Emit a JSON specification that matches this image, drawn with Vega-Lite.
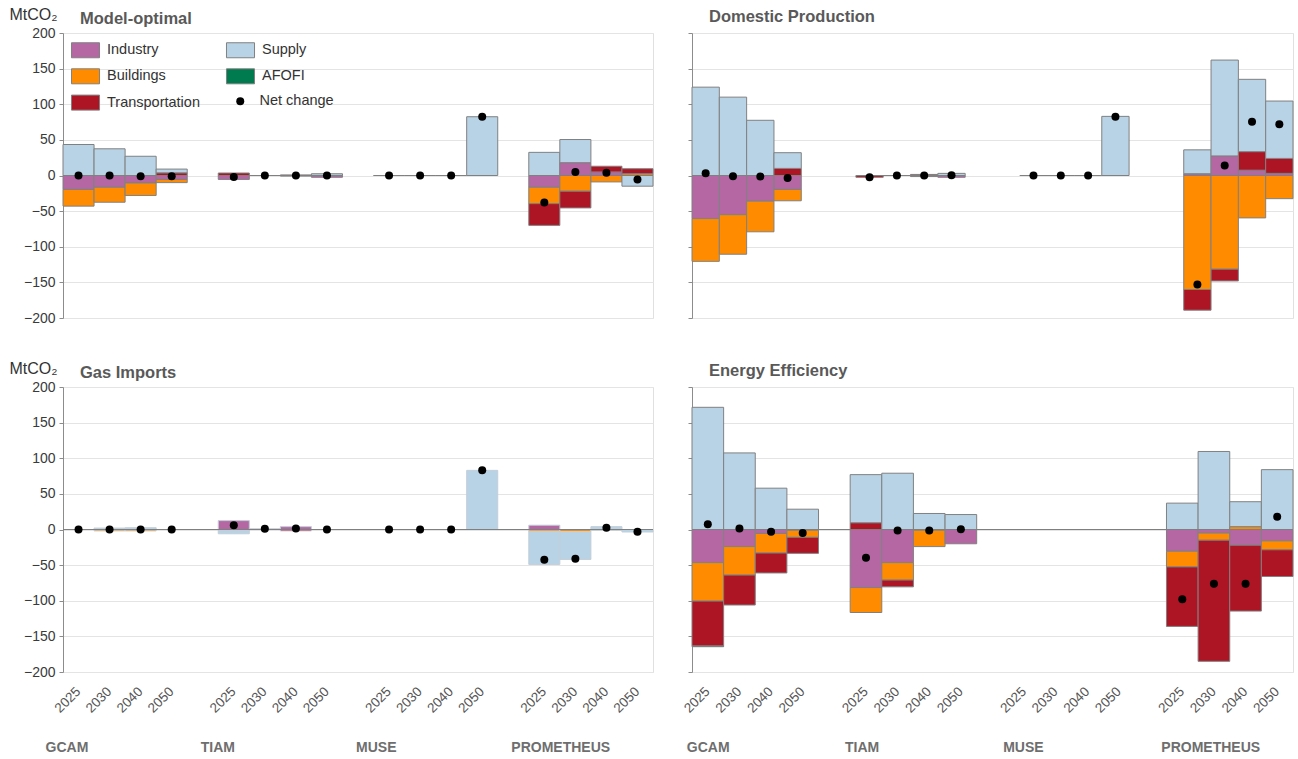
{
  "$schema": "https://vega.github.io/schema/vega-lite/v6.json",
  "background": "white",
  "padding": {"left": 8, "top": 5, "right": 4, "bottom": 4},
  "config": {
    "font": "Liberation Sans",
    "view": {"stroke": "#e0e0e0", "strokeWidth": 1},
    "axis": {"domainColor": "#8c8c8c", "tickColor": "#8c8c8c", "gridColor": "#e4e4e4", "gridWidth": 1},
    "title": {"anchor": "start", "frame": "group", "dx": 17, "fontSize": 16.5, "fontWeight": "bold", "color": "#595959", "baseline": "alphabetic"}
  },
  "datasets": {
    "bars": [
      {"panel": "Model-optimal", "model": "GCAM", "year": "2025", "sector": "Supply", "value": 43.5},
      {"panel": "Model-optimal", "model": "GCAM", "year": "2025", "sector": "Industry", "value": -19.5},
      {"panel": "Model-optimal", "model": "GCAM", "year": "2025", "sector": "Buildings", "value": -23.5},
      {"panel": "Model-optimal", "model": "GCAM", "year": "2030", "sector": "Supply", "value": 37.5},
      {"panel": "Model-optimal", "model": "GCAM", "year": "2030", "sector": "Industry", "value": -16.5},
      {"panel": "Model-optimal", "model": "GCAM", "year": "2030", "sector": "Buildings", "value": -21},
      {"panel": "Model-optimal", "model": "GCAM", "year": "2040", "sector": "Supply", "value": 27},
      {"panel": "Model-optimal", "model": "GCAM", "year": "2040", "sector": "Industry", "value": -10.5},
      {"panel": "Model-optimal", "model": "GCAM", "year": "2040", "sector": "Buildings", "value": -17.5},
      {"panel": "Model-optimal", "model": "GCAM", "year": "2050", "sector": "Supply", "value": 5.5},
      {"panel": "Model-optimal", "model": "GCAM", "year": "2050", "sector": "Transportation", "value": 3.5},
      {"panel": "Model-optimal", "model": "GCAM", "year": "2050", "sector": "Industry", "value": -5.5},
      {"panel": "Model-optimal", "model": "GCAM", "year": "2050", "sector": "Buildings", "value": -4.5},
      {"panel": "Model-optimal", "model": "TIAM", "year": "2025", "sector": "Transportation", "value": 3.5},
      {"panel": "Model-optimal", "model": "TIAM", "year": "2025", "sector": "Industry", "value": -5.5},
      {"panel": "Model-optimal", "model": "TIAM", "year": "2030", "sector": "Supply", "value": 0},
      {"panel": "Model-optimal", "model": "TIAM", "year": "2040", "sector": "Transportation", "value": 0.8},
      {"panel": "Model-optimal", "model": "TIAM", "year": "2040", "sector": "Industry", "value": -0.8},
      {"panel": "Model-optimal", "model": "TIAM", "year": "2050", "sector": "Supply", "value": 2.5},
      {"panel": "Model-optimal", "model": "TIAM", "year": "2050", "sector": "Industry", "value": -2.5},
      {"panel": "Model-optimal", "model": "MUSE", "year": "2025", "sector": "Supply", "value": 0},
      {"panel": "Model-optimal", "model": "MUSE", "year": "2030", "sector": "Supply", "value": 0},
      {"panel": "Model-optimal", "model": "MUSE", "year": "2040", "sector": "Supply", "value": 0},
      {"panel": "Model-optimal", "model": "MUSE", "year": "2050", "sector": "Supply", "value": 82.5},
      {"panel": "Model-optimal", "model": "PROMETHEUS", "year": "2025", "sector": "Supply", "value": 32.5},
      {"panel": "Model-optimal", "model": "PROMETHEUS", "year": "2025", "sector": "Industry", "value": -16.5},
      {"panel": "Model-optimal", "model": "PROMETHEUS", "year": "2025", "sector": "Buildings", "value": -23},
      {"panel": "Model-optimal", "model": "PROMETHEUS", "year": "2025", "sector": "Transportation", "value": -30.5},
      {"panel": "Model-optimal", "model": "PROMETHEUS", "year": "2030", "sector": "Industry", "value": 18},
      {"panel": "Model-optimal", "model": "PROMETHEUS", "year": "2030", "sector": "Supply", "value": 32.5},
      {"panel": "Model-optimal", "model": "PROMETHEUS", "year": "2030", "sector": "Buildings", "value": -22},
      {"panel": "Model-optimal", "model": "PROMETHEUS", "year": "2030", "sector": "Transportation", "value": -23.5},
      {"panel": "Model-optimal", "model": "PROMETHEUS", "year": "2040", "sector": "Industry", "value": 5},
      {"panel": "Model-optimal", "model": "PROMETHEUS", "year": "2040", "sector": "Transportation", "value": 8},
      {"panel": "Model-optimal", "model": "PROMETHEUS", "year": "2040", "sector": "Buildings", "value": -9},
      {"panel": "Model-optimal", "model": "PROMETHEUS", "year": "2050", "sector": "Buildings", "value": 2.5},
      {"panel": "Model-optimal", "model": "PROMETHEUS", "year": "2050", "sector": "Transportation", "value": 7},
      {"panel": "Model-optimal", "model": "PROMETHEUS", "year": "2050", "sector": "Supply", "value": -15},

      {"panel": "Domestic Production", "model": "GCAM", "year": "2025", "sector": "Supply", "value": 124},
      {"panel": "Domestic Production", "model": "GCAM", "year": "2025", "sector": "Industry", "value": -60.5},
      {"panel": "Domestic Production", "model": "GCAM", "year": "2025", "sector": "Buildings", "value": -60},
      {"panel": "Domestic Production", "model": "GCAM", "year": "2030", "sector": "Supply", "value": 110},
      {"panel": "Domestic Production", "model": "GCAM", "year": "2030", "sector": "Industry", "value": -55},
      {"panel": "Domestic Production", "model": "GCAM", "year": "2030", "sector": "Buildings", "value": -55.5},
      {"panel": "Domestic Production", "model": "GCAM", "year": "2040", "sector": "Supply", "value": 77.5},
      {"panel": "Domestic Production", "model": "GCAM", "year": "2040", "sector": "Industry", "value": -36},
      {"panel": "Domestic Production", "model": "GCAM", "year": "2040", "sector": "Buildings", "value": -43},
      {"panel": "Domestic Production", "model": "GCAM", "year": "2050", "sector": "Transportation", "value": 10},
      {"panel": "Domestic Production", "model": "GCAM", "year": "2050", "sector": "Supply", "value": 22},
      {"panel": "Domestic Production", "model": "GCAM", "year": "2050", "sector": "Industry", "value": -19.5},
      {"panel": "Domestic Production", "model": "GCAM", "year": "2050", "sector": "Buildings", "value": -16},
      {"panel": "Domestic Production", "model": "TIAM", "year": "2025", "sector": "Transportation", "value": -2.5},
      {"panel": "Domestic Production", "model": "TIAM", "year": "2030", "sector": "Supply", "value": 0},
      {"panel": "Domestic Production", "model": "TIAM", "year": "2040", "sector": "Transportation", "value": 1.5},
      {"panel": "Domestic Production", "model": "TIAM", "year": "2040", "sector": "Industry", "value": -1.5},
      {"panel": "Domestic Production", "model": "TIAM", "year": "2050", "sector": "Supply", "value": 3},
      {"panel": "Domestic Production", "model": "TIAM", "year": "2050", "sector": "Industry", "value": -2.5},
      {"panel": "Domestic Production", "model": "MUSE", "year": "2025", "sector": "Supply", "value": 0},
      {"panel": "Domestic Production", "model": "MUSE", "year": "2030", "sector": "Supply", "value": 0},
      {"panel": "Domestic Production", "model": "MUSE", "year": "2040", "sector": "Supply", "value": 0},
      {"panel": "Domestic Production", "model": "MUSE", "year": "2050", "sector": "Supply", "value": 83},
      {"panel": "Domestic Production", "model": "PROMETHEUS", "year": "2025", "sector": "Industry", "value": 2.5},
      {"panel": "Domestic Production", "model": "PROMETHEUS", "year": "2025", "sector": "Supply", "value": 33.5},
      {"panel": "Domestic Production", "model": "PROMETHEUS", "year": "2025", "sector": "Buildings", "value": -160},
      {"panel": "Domestic Production", "model": "PROMETHEUS", "year": "2025", "sector": "Transportation", "value": -29},
      {"panel": "Domestic Production", "model": "PROMETHEUS", "year": "2030", "sector": "Industry", "value": 27.5},
      {"panel": "Domestic Production", "model": "PROMETHEUS", "year": "2030", "sector": "Supply", "value": 134.5},
      {"panel": "Domestic Production", "model": "PROMETHEUS", "year": "2030", "sector": "Buildings", "value": -131.5},
      {"panel": "Domestic Production", "model": "PROMETHEUS", "year": "2030", "sector": "Transportation", "value": -16.5},
      {"panel": "Domestic Production", "model": "PROMETHEUS", "year": "2040", "sector": "Industry", "value": 7.5},
      {"panel": "Domestic Production", "model": "PROMETHEUS", "year": "2040", "sector": "Transportation", "value": 26},
      {"panel": "Domestic Production", "model": "PROMETHEUS", "year": "2040", "sector": "Supply", "value": 101.5},
      {"panel": "Domestic Production", "model": "PROMETHEUS", "year": "2040", "sector": "Buildings", "value": -59.5},
      {"panel": "Domestic Production", "model": "PROMETHEUS", "year": "2050", "sector": "Industry", "value": 3},
      {"panel": "Domestic Production", "model": "PROMETHEUS", "year": "2050", "sector": "Transportation", "value": 21},
      {"panel": "Domestic Production", "model": "PROMETHEUS", "year": "2050", "sector": "Supply", "value": 80.5},
      {"panel": "Domestic Production", "model": "PROMETHEUS", "year": "2050", "sector": "Buildings", "value": -32.5},

      {"panel": "Gas Imports", "model": "GCAM", "year": "2025", "sector": "Supply", "value": 0},
      {"panel": "Gas Imports", "model": "GCAM", "year": "2030", "sector": "Supply", "value": 2},
      {"panel": "Gas Imports", "model": "GCAM", "year": "2030", "sector": "Buildings", "value": -2},
      {"panel": "Gas Imports", "model": "GCAM", "year": "2040", "sector": "Supply", "value": 2.5},
      {"panel": "Gas Imports", "model": "GCAM", "year": "2040", "sector": "Buildings", "value": -2},
      {"panel": "Gas Imports", "model": "GCAM", "year": "2050", "sector": "Supply", "value": 0},
      {"panel": "Gas Imports", "model": "TIAM", "year": "2025", "sector": "Industry", "value": 12.5},
      {"panel": "Gas Imports", "model": "TIAM", "year": "2025", "sector": "Transportation", "value": -1.5},
      {"panel": "Gas Imports", "model": "TIAM", "year": "2025", "sector": "Supply", "value": -4.5},
      {"panel": "Gas Imports", "model": "TIAM", "year": "2030", "sector": "Industry", "value": 1},
      {"panel": "Gas Imports", "model": "TIAM", "year": "2040", "sector": "Industry", "value": 4},
      {"panel": "Gas Imports", "model": "TIAM", "year": "2040", "sector": "Transportation", "value": -2},
      {"panel": "Gas Imports", "model": "TIAM", "year": "2050", "sector": "Supply", "value": 0},
      {"panel": "Gas Imports", "model": "MUSE", "year": "2025", "sector": "Supply", "value": 0},
      {"panel": "Gas Imports", "model": "MUSE", "year": "2030", "sector": "Supply", "value": 0},
      {"panel": "Gas Imports", "model": "MUSE", "year": "2040", "sector": "Supply", "value": 0},
      {"panel": "Gas Imports", "model": "MUSE", "year": "2050", "sector": "Supply", "value": 83},
      {"panel": "Gas Imports", "model": "PROMETHEUS", "year": "2025", "sector": "Industry", "value": 6},
      {"panel": "Gas Imports", "model": "PROMETHEUS", "year": "2025", "sector": "Buildings", "value": -2.5},
      {"panel": "Gas Imports", "model": "PROMETHEUS", "year": "2025", "sector": "Supply", "value": -46.5},
      {"panel": "Gas Imports", "model": "PROMETHEUS", "year": "2030", "sector": "Buildings", "value": -3},
      {"panel": "Gas Imports", "model": "PROMETHEUS", "year": "2030", "sector": "Supply", "value": -39},
      {"panel": "Gas Imports", "model": "PROMETHEUS", "year": "2040", "sector": "Supply", "value": 4},
      {"panel": "Gas Imports", "model": "PROMETHEUS", "year": "2040", "sector": "Buildings", "value": -1},
      {"panel": "Gas Imports", "model": "PROMETHEUS", "year": "2050", "sector": "Supply", "value": -3.5},

      {"panel": "Energy Efficiency", "model": "GCAM", "year": "2025", "sector": "Supply", "value": 171.5},
      {"panel": "Energy Efficiency", "model": "GCAM", "year": "2025", "sector": "Industry", "value": -46.5},
      {"panel": "Energy Efficiency", "model": "GCAM", "year": "2025", "sector": "Buildings", "value": -54},
      {"panel": "Energy Efficiency", "model": "GCAM", "year": "2025", "sector": "Transportation", "value": -63},
      {"panel": "Energy Efficiency", "model": "GCAM", "year": "2025", "sector": "AFOFI", "value": -1},
      {"panel": "Energy Efficiency", "model": "GCAM", "year": "2030", "sector": "Supply", "value": 107.5},
      {"panel": "Energy Efficiency", "model": "GCAM", "year": "2030", "sector": "Industry", "value": -24},
      {"panel": "Energy Efficiency", "model": "GCAM", "year": "2030", "sector": "Buildings", "value": -40},
      {"panel": "Energy Efficiency", "model": "GCAM", "year": "2030", "sector": "Transportation", "value": -42},
      {"panel": "Energy Efficiency", "model": "GCAM", "year": "2040", "sector": "Supply", "value": 58},
      {"panel": "Energy Efficiency", "model": "GCAM", "year": "2040", "sector": "Industry", "value": -5.5},
      {"panel": "Energy Efficiency", "model": "GCAM", "year": "2040", "sector": "Buildings", "value": -27.5},
      {"panel": "Energy Efficiency", "model": "GCAM", "year": "2040", "sector": "Transportation", "value": -28},
      {"panel": "Energy Efficiency", "model": "GCAM", "year": "2050", "sector": "Supply", "value": 28.5},
      {"panel": "Energy Efficiency", "model": "GCAM", "year": "2050", "sector": "Industry", "value": -1},
      {"panel": "Energy Efficiency", "model": "GCAM", "year": "2050", "sector": "Buildings", "value": -10},
      {"panel": "Energy Efficiency", "model": "GCAM", "year": "2050", "sector": "Transportation", "value": -22.5},
      {"panel": "Energy Efficiency", "model": "TIAM", "year": "2025", "sector": "Transportation", "value": 9.5},
      {"panel": "Energy Efficiency", "model": "TIAM", "year": "2025", "sector": "Supply", "value": 67.5},
      {"panel": "Energy Efficiency", "model": "TIAM", "year": "2025", "sector": "Industry", "value": -81.5},
      {"panel": "Energy Efficiency", "model": "TIAM", "year": "2025", "sector": "Buildings", "value": -35},
      {"panel": "Energy Efficiency", "model": "TIAM", "year": "2030", "sector": "Supply", "value": 79},
      {"panel": "Energy Efficiency", "model": "TIAM", "year": "2030", "sector": "Industry", "value": -46.5},
      {"panel": "Energy Efficiency", "model": "TIAM", "year": "2030", "sector": "Buildings", "value": -24.5},
      {"panel": "Energy Efficiency", "model": "TIAM", "year": "2030", "sector": "Transportation", "value": -9.5},
      {"panel": "Energy Efficiency", "model": "TIAM", "year": "2040", "sector": "Supply", "value": 22.5},
      {"panel": "Energy Efficiency", "model": "TIAM", "year": "2040", "sector": "Industry", "value": -1},
      {"panel": "Energy Efficiency", "model": "TIAM", "year": "2040", "sector": "Buildings", "value": -23},
      {"panel": "Energy Efficiency", "model": "TIAM", "year": "2050", "sector": "Supply", "value": 21},
      {"panel": "Energy Efficiency", "model": "TIAM", "year": "2050", "sector": "Industry", "value": -20},
      {"panel": "Energy Efficiency", "model": "PROMETHEUS", "year": "2025", "sector": "Supply", "value": 37},
      {"panel": "Energy Efficiency", "model": "PROMETHEUS", "year": "2025", "sector": "Industry", "value": -30.5},
      {"panel": "Energy Efficiency", "model": "PROMETHEUS", "year": "2025", "sector": "Buildings", "value": -22},
      {"panel": "Energy Efficiency", "model": "PROMETHEUS", "year": "2025", "sector": "Transportation", "value": -83.5},
      {"panel": "Energy Efficiency", "model": "PROMETHEUS", "year": "2030", "sector": "Supply", "value": 109.5},
      {"panel": "Energy Efficiency", "model": "PROMETHEUS", "year": "2030", "sector": "Industry", "value": -5},
      {"panel": "Energy Efficiency", "model": "PROMETHEUS", "year": "2030", "sector": "Buildings", "value": -10},
      {"panel": "Energy Efficiency", "model": "PROMETHEUS", "year": "2030", "sector": "Transportation", "value": -170},
      {"panel": "Energy Efficiency", "model": "PROMETHEUS", "year": "2040", "sector": "Buildings", "value": 4},
      {"panel": "Energy Efficiency", "model": "PROMETHEUS", "year": "2040", "sector": "Supply", "value": 35},
      {"panel": "Energy Efficiency", "model": "PROMETHEUS", "year": "2040", "sector": "Industry", "value": -22},
      {"panel": "Energy Efficiency", "model": "PROMETHEUS", "year": "2040", "sector": "Transportation", "value": -92.5},
      {"panel": "Energy Efficiency", "model": "PROMETHEUS", "year": "2050", "sector": "Supply", "value": 84},
      {"panel": "Energy Efficiency", "model": "PROMETHEUS", "year": "2050", "sector": "Industry", "value": -16},
      {"panel": "Energy Efficiency", "model": "PROMETHEUS", "year": "2050", "sector": "Buildings", "value": -12.5},
      {"panel": "Energy Efficiency", "model": "PROMETHEUS", "year": "2050", "sector": "Transportation", "value": -37.5}
    ],
    "net": [
      {"panel": "Model-optimal", "model": "GCAM", "year": "2025", "net": 0},
      {"panel": "Model-optimal", "model": "GCAM", "year": "2030", "net": 0},
      {"panel": "Model-optimal", "model": "GCAM", "year": "2040", "net": -1},
      {"panel": "Model-optimal", "model": "GCAM", "year": "2050", "net": -1},
      {"panel": "Model-optimal", "model": "TIAM", "year": "2025", "net": -2},
      {"panel": "Model-optimal", "model": "TIAM", "year": "2030", "net": 0},
      {"panel": "Model-optimal", "model": "TIAM", "year": "2040", "net": 0},
      {"panel": "Model-optimal", "model": "TIAM", "year": "2050", "net": 0},
      {"panel": "Model-optimal", "model": "MUSE", "year": "2025", "net": 0},
      {"panel": "Model-optimal", "model": "MUSE", "year": "2030", "net": 0},
      {"panel": "Model-optimal", "model": "MUSE", "year": "2040", "net": 0},
      {"panel": "Model-optimal", "model": "MUSE", "year": "2050", "net": 82.5},
      {"panel": "Model-optimal", "model": "PROMETHEUS", "year": "2025", "net": -38},
      {"panel": "Model-optimal", "model": "PROMETHEUS", "year": "2030", "net": 5},
      {"panel": "Model-optimal", "model": "PROMETHEUS", "year": "2040", "net": 4},
      {"panel": "Model-optimal", "model": "PROMETHEUS", "year": "2050", "net": -5.5},
      {"panel": "Domestic Production", "model": "GCAM", "year": "2025", "net": 3},
      {"panel": "Domestic Production", "model": "GCAM", "year": "2030", "net": -1},
      {"panel": "Domestic Production", "model": "GCAM", "year": "2040", "net": -1.5},
      {"panel": "Domestic Production", "model": "GCAM", "year": "2050", "net": -3.5},
      {"panel": "Domestic Production", "model": "TIAM", "year": "2025", "net": -2.5},
      {"panel": "Domestic Production", "model": "TIAM", "year": "2030", "net": 0},
      {"panel": "Domestic Production", "model": "TIAM", "year": "2040", "net": 0},
      {"panel": "Domestic Production", "model": "TIAM", "year": "2050", "net": 0.5},
      {"panel": "Domestic Production", "model": "MUSE", "year": "2025", "net": 0},
      {"panel": "Domestic Production", "model": "MUSE", "year": "2030", "net": 0},
      {"panel": "Domestic Production", "model": "MUSE", "year": "2040", "net": 0},
      {"panel": "Domestic Production", "model": "MUSE", "year": "2050", "net": 82.5},
      {"panel": "Domestic Production", "model": "PROMETHEUS", "year": "2025", "net": -153},
      {"panel": "Domestic Production", "model": "PROMETHEUS", "year": "2030", "net": 14},
      {"panel": "Domestic Production", "model": "PROMETHEUS", "year": "2040", "net": 75.5},
      {"panel": "Domestic Production", "model": "PROMETHEUS", "year": "2050", "net": 72},
      {"panel": "Gas Imports", "model": "GCAM", "year": "2025", "net": 0},
      {"panel": "Gas Imports", "model": "GCAM", "year": "2030", "net": 0},
      {"panel": "Gas Imports", "model": "GCAM", "year": "2040", "net": 0},
      {"panel": "Gas Imports", "model": "GCAM", "year": "2050", "net": 0},
      {"panel": "Gas Imports", "model": "TIAM", "year": "2025", "net": 6},
      {"panel": "Gas Imports", "model": "TIAM", "year": "2030", "net": 1},
      {"panel": "Gas Imports", "model": "TIAM", "year": "2040", "net": 1.5},
      {"panel": "Gas Imports", "model": "TIAM", "year": "2050", "net": 0},
      {"panel": "Gas Imports", "model": "MUSE", "year": "2025", "net": 0},
      {"panel": "Gas Imports", "model": "MUSE", "year": "2030", "net": 0},
      {"panel": "Gas Imports", "model": "MUSE", "year": "2040", "net": 0},
      {"panel": "Gas Imports", "model": "MUSE", "year": "2050", "net": 83},
      {"panel": "Gas Imports", "model": "PROMETHEUS", "year": "2025", "net": -42.5},
      {"panel": "Gas Imports", "model": "PROMETHEUS", "year": "2030", "net": -41},
      {"panel": "Gas Imports", "model": "PROMETHEUS", "year": "2040", "net": 2.5},
      {"panel": "Gas Imports", "model": "PROMETHEUS", "year": "2050", "net": -3},
      {"panel": "Energy Efficiency", "model": "GCAM", "year": "2025", "net": 7.5},
      {"panel": "Energy Efficiency", "model": "GCAM", "year": "2030", "net": 1.5},
      {"panel": "Energy Efficiency", "model": "GCAM", "year": "2040", "net": -3},
      {"panel": "Energy Efficiency", "model": "GCAM", "year": "2050", "net": -5},
      {"panel": "Energy Efficiency", "model": "TIAM", "year": "2025", "net": -39.5},
      {"panel": "Energy Efficiency", "model": "TIAM", "year": "2030", "net": -1.5},
      {"panel": "Energy Efficiency", "model": "TIAM", "year": "2040", "net": -1.5},
      {"panel": "Energy Efficiency", "model": "TIAM", "year": "2050", "net": 0.5},
      {"panel": "Energy Efficiency", "model": "PROMETHEUS", "year": "2025", "net": -98},
      {"panel": "Energy Efficiency", "model": "PROMETHEUS", "year": "2030", "net": -76},
      {"panel": "Energy Efficiency", "model": "PROMETHEUS", "year": "2040", "net": -76},
      {"panel": "Energy Efficiency", "model": "PROMETHEUS", "year": "2050", "net": 18}
    ]
  },
  "columns": 2,
  "bounds": "flush",
  "spacing": {"row": 69, "column": 39},
  "resolve": {"legend": {"color": "independent", "shape": "independent"}},
  "concat": [
    {
      "width": 590, "height": 285,
      "title": {"text": "Model-optimal", "offset": -21.5},
      "layer": [
        {
          "data": {"name": "bars"},
          "transform": [
            {"filter": "datum.panel == 'Model-optimal'"},
            {"calculate": "datum.model + '|' + datum.year", "as": "key"},
            {"calculate": "indexof(['Industry','Buildings','Transportation','AFOFI','Supply'], datum.sector)", "as": "so"}
          ],
          "mark": {"type": "bar", "stroke": "#808080", "strokeWidth": 1},
          "encoding": {
            "x": {"field": "key", "type": "nominal", "scale": {"domain": ["GCAM|2025","GCAM|2030","GCAM|2040","GCAM|2050","gap1","TIAM|2025","TIAM|2030","TIAM|2040","TIAM|2050","gap2","MUSE|2025","MUSE|2030","MUSE|2040","MUSE|2050","gap3","PROMETHEUS|2025","PROMETHEUS|2030","PROMETHEUS|2040","PROMETHEUS|2050"], "paddingInner": 0, "paddingOuter": 0}, "axis": null},
            "y": {"field": "value", "type": "quantitative", "stack": "zero", "scale": {"domain": [-200, 200], "nice": false}, "axis": {"title": "MtCO₂", "titleAngle": 0, "titleAlign": "left", "titleBaseline": "alphabetic", "titleX": -54, "titleY": -14, "titleFontSize": 16, "titleFontWeight": "normal", "titleColor": "#333333", "values": [-200,-150,-100,-50,0,50,100,150,200], "labelFontSize": 14, "labelColor": "#3a3a3a", "tickSize": 4, "labelPadding": 4}},
            "color": {"field": "sector", "type": "nominal", "scale": {"domain": ["Industry","Buildings","Transportation","Supply","AFOFI"], "range": ["#B567A4","#FF8C00","#AD1424","#B8D3E6","#007A4F"]},
              "legend": {"orient": "none", "legendX": 14.5, "legendY": 9, "columns": 2, "title": null, "symbolType": "M-1.87,-1H1.87V1H-1.87Z", "symbolSize": 225, "symbolStrokeColor": "#808080", "symbolStrokeWidth": 1, "symbolOpacity": 1, "labelFontSize": 14.5, "labelColor": "#333333", "labelOffset": 13.5, "columnPadding": 23, "rowPadding": 6.3, "padding": 0, "labelLimit": 200}},
            "order": {"field": "so", "type": "quantitative"}
          }
        },
        {
          "data": {"name": "net"},
          "transform": [
            {"filter": "datum.panel == 'Model-optimal'"},
            {"calculate": "datum.model + '|' + datum.year", "as": "key"}
          ],
          "mark": {"type": "point", "filled": true, "color": "black", "size": 64, "opacity": 1},
          "encoding": {
            "x": {"field": "key", "type": "nominal", "scale": {"domain": ["GCAM|2025","GCAM|2030","GCAM|2040","GCAM|2050","gap1","TIAM|2025","TIAM|2030","TIAM|2040","TIAM|2050","gap2","MUSE|2025","MUSE|2030","MUSE|2040","MUSE|2050","gap3","PROMETHEUS|2025","PROMETHEUS|2030","PROMETHEUS|2040","PROMETHEUS|2050"], "paddingInner": 0, "paddingOuter": 0}, "axis": null},
            "y": {"field": "net", "type": "quantitative", "scale": {"domain": [-200, 200], "nice": false}, "axis": {"title": "MtCO₂", "titleAngle": 0, "titleAlign": "left", "titleBaseline": "alphabetic", "titleX": -54, "titleY": -14, "titleFontSize": 16, "titleFontWeight": "normal", "titleColor": "#333333", "values": [-200,-150,-100,-50,0,50,100,150,200], "labelFontSize": 14, "labelColor": "#3a3a3a", "tickSize": 4, "labelPadding": 4}},
            "shape": {"datum": "Net change", "type": "nominal", "scale": {"range": ["circle"]},
              "legend": {"orient": "none", "legendX": 170, "legendY": 61, "title": null, "symbolSize": 64, "symbolFillColor": "black", "symbolStrokeColor": "black", "symbolStrokeWidth": 0, "labelFontSize": 14.5, "labelColor": "#333333", "labelOffset": 12, "padding": 0}}
          }
        }
      ]
    },
    {
      "width": 601, "height": 285,
      "title": {"text": "Domestic Production", "offset": 7.5},
      "layer": [
        {
          "data": {"name": "bars"},
          "transform": [
            {"filter": "datum.panel == 'Domestic Production'"},
            {"calculate": "datum.model + '|' + datum.year", "as": "key"},
            {"calculate": "indexof(['Industry','Buildings','Transportation','AFOFI','Supply'], datum.sector)", "as": "so"}
          ],
          "mark": {"type": "bar", "stroke": "#808080", "strokeWidth": 1},
          "encoding": {
            "x": {"field": "key", "type": "nominal", "scale": {"domain": ["GCAM|2025","GCAM|2030","GCAM|2040","GCAM|2050","gap1","gap1b","TIAM|2025","TIAM|2030","TIAM|2040","TIAM|2050","gap2","gap2b","MUSE|2025","MUSE|2030","MUSE|2040","MUSE|2050","gap3","gap3b","PROMETHEUS|2025","PROMETHEUS|2030","PROMETHEUS|2040","PROMETHEUS|2050"], "paddingInner": 0, "paddingOuter": 0}, "axis": null},
            "y": {"field": "value", "type": "quantitative", "stack": "zero", "scale": {"domain": [-200, 200], "nice": false}, "axis": {"title": null, "labels": false, "values": [-200,-150,-100,-50,0,50,100,150,200], "tickSize": 4}},
            "color": {"field": "sector", "type": "nominal", "scale": {"domain": ["Industry","Buildings","Transportation","Supply","AFOFI"], "range": ["#B567A4","#FF8C00","#AD1424","#B8D3E6","#007A4F"]}, "legend": null},
            "order": {"field": "so", "type": "quantitative"}
          }
        },
        {
          "data": {"name": "net"},
          "transform": [
            {"filter": "datum.panel == 'Domestic Production'"},
            {"calculate": "datum.model + '|' + datum.year", "as": "key"}
          ],
          "mark": {"type": "point", "filled": true, "color": "black", "size": 64, "opacity": 1, "shape": "circle"},
          "encoding": {
            "x": {"field": "key", "type": "nominal", "scale": {"domain": ["GCAM|2025","GCAM|2030","GCAM|2040","GCAM|2050","gap1","gap1b","TIAM|2025","TIAM|2030","TIAM|2040","TIAM|2050","gap2","gap2b","MUSE|2025","MUSE|2030","MUSE|2040","MUSE|2050","gap3","gap3b","PROMETHEUS|2025","PROMETHEUS|2030","PROMETHEUS|2040","PROMETHEUS|2050"], "paddingInner": 0, "paddingOuter": 0}, "axis": null},
            "y": {"field": "net", "type": "quantitative", "scale": {"domain": [-200, 200], "nice": false}, "axis": {"title": null, "labels": false, "values": [-200,-150,-100,-50,0,50,100,150,200], "tickSize": 4}}
          }
        }
      ]
    },
    {
      "width": 590, "height": 285,
      "title": {"text": "Gas Imports", "offset": -21.5},
      "resolve": {"axis": {"x": "independent"}},
      "layer": [
        {
          "data": {"name": "bars"},
          "transform": [
            {"filter": "datum.panel == 'Gas Imports'"},
            {"calculate": "datum.model + '|' + datum.year", "as": "key"},
            {"calculate": "indexof(['Industry','Buildings','Transportation','AFOFI','Supply'], datum.sector)", "as": "so"}
          ],
          "mark": {"type": "bar", "stroke": "#c3ced8", "strokeWidth": 1},
          "encoding": {
            "x": {"field": "key", "type": "nominal", "scale": {"domain": ["GCAM|2025","GCAM|2030","GCAM|2040","GCAM|2050","gap1","TIAM|2025","TIAM|2030","TIAM|2040","TIAM|2050","gap2","MUSE|2025","MUSE|2030","MUSE|2040","MUSE|2050","gap3","PROMETHEUS|2025","PROMETHEUS|2030","PROMETHEUS|2040","PROMETHEUS|2050"], "paddingInner": 0, "paddingOuter": 0},
              "axis": {"orient": "bottom", "title": null, "labelExpr": "indexof(datum.value, '|') > 0 ? split(datum.value, '|')[1] : ''", "labelAngle": -45, "labelAlign": "right", "labelBaseline": "middle", "ticks": false, "domain": false, "grid": false, "labelFontSize": 13.5, "labelColor": "#555555", "labelPadding": 17, "labelOverlap": false}},
            "y": {"field": "value", "type": "quantitative", "stack": "zero", "scale": {"domain": [-200, 200], "nice": false}, "axis": {"title": "MtCO₂", "titleAngle": 0, "titleAlign": "left", "titleBaseline": "alphabetic", "titleX": -54, "titleY": -14, "titleFontSize": 16, "titleFontWeight": "normal", "titleColor": "#333333", "values": [-200,-150,-100,-50,0,50,100,150,200], "labelFontSize": 14, "labelColor": "#3a3a3a", "tickSize": 4, "labelPadding": 4}},
            "color": {"field": "sector", "type": "nominal", "scale": {"domain": ["Industry","Buildings","Transportation","Supply","AFOFI"], "range": ["#B567A4","#FF8C00","#AD1424","#B8D3E6","#007A4F"]}, "legend": null},
            "order": {"field": "so", "type": "quantitative"}
          }
        },
        {
          "data": {"values": [{}]},
          "mark": {"type": "rule", "color": "#7f7f7f", "strokeWidth": 1},
          "encoding": {
            "y": {"datum": 0, "type": "quantitative", "scale": {"domain": [-200, 200], "nice": false}, "axis": {"title": "MtCO₂", "titleAngle": 0, "titleAlign": "left", "titleBaseline": "alphabetic", "titleX": -54, "titleY": -14, "titleFontSize": 16, "titleFontWeight": "normal", "titleColor": "#333333", "values": [-200,-150,-100,-50,0,50,100,150,200], "labelFontSize": 14, "labelColor": "#3a3a3a", "tickSize": 4, "labelPadding": 4}}
          }
        },
        {
          "data": {"name": "net"},
          "transform": [
            {"filter": "datum.panel == 'Gas Imports'"},
            {"calculate": "datum.model + '|' + datum.year", "as": "key"}
          ],
          "mark": {"type": "point", "filled": true, "color": "black", "size": 64, "opacity": 1, "shape": "circle"},
          "encoding": {
            "x": {"field": "key", "type": "nominal", "scale": {"domain": ["GCAM|2025","GCAM|2030","GCAM|2040","GCAM|2050","gap1","TIAM|2025","TIAM|2030","TIAM|2040","TIAM|2050","gap2","MUSE|2025","MUSE|2030","MUSE|2040","MUSE|2050","gap3","PROMETHEUS|2025","PROMETHEUS|2030","PROMETHEUS|2040","PROMETHEUS|2050"], "paddingInner": 0, "paddingOuter": 0},
              "axis": {"orient": "bottom", "title": null, "offset": 68, "labelExpr": "split(datum.value, '|')[1] == '2025' ? split(datum.value, '|')[0] : ''", "labelAngle": 0, "labelAlign": "left", "labelBaseline": "top", "labelOffset": -33, "labelFont": "Liberation Sans", "labelFontWeight": "bold", "labelFontSize": 14, "labelColor": "#6e6e6e", "ticks": false, "domain": false, "grid": false, "labelPadding": 0, "labelOverlap": false}},
            "y": {"field": "net", "type": "quantitative", "scale": {"domain": [-200, 200], "nice": false}, "axis": {"title": "MtCO₂", "titleAngle": 0, "titleAlign": "left", "titleBaseline": "alphabetic", "titleX": -54, "titleY": -14, "titleFontSize": 16, "titleFontWeight": "normal", "titleColor": "#333333", "values": [-200,-150,-100,-50,0,50,100,150,200], "labelFontSize": 14, "labelColor": "#3a3a3a", "tickSize": 4, "labelPadding": 4}}
          }
        }
      ]
    },
    {
      "width": 601, "height": 285,
      "title": {"text": "Energy Efficiency", "offset": 7.5},
      "resolve": {"axis": {"x": "independent"}},
      "layer": [
        {
          "data": {"name": "bars"},
          "transform": [
            {"filter": "datum.panel == 'Energy Efficiency'"},
            {"calculate": "datum.model + '|' + datum.year", "as": "key"},
            {"calculate": "indexof(['Industry','Buildings','Transportation','AFOFI','Supply'], datum.sector)", "as": "so"}
          ],
          "mark": {"type": "bar", "stroke": "#808080", "strokeWidth": 1},
          "encoding": {
            "x": {"field": "key", "type": "nominal", "scale": {"domain": ["GCAM|2025","GCAM|2030","GCAM|2040","GCAM|2050","gap1","TIAM|2025","TIAM|2030","TIAM|2040","TIAM|2050","gap2","MUSE|2025","MUSE|2030","MUSE|2040","MUSE|2050","gap3","PROMETHEUS|2025","PROMETHEUS|2030","PROMETHEUS|2040","PROMETHEUS|2050"], "paddingInner": 0, "paddingOuter": 0},
              "axis": {"orient": "bottom", "title": null, "labelExpr": "indexof(datum.value, '|') > 0 ? split(datum.value, '|')[1] : ''", "labelAngle": -45, "labelAlign": "right", "labelBaseline": "middle", "ticks": false, "domain": false, "grid": false, "labelFontSize": 13.5, "labelColor": "#555555", "labelPadding": 17, "labelOverlap": false}},
            "y": {"field": "value", "type": "quantitative", "stack": "zero", "scale": {"domain": [-200, 200], "nice": false}, "axis": {"title": null, "labels": false, "values": [-200,-150,-100,-50,0,50,100,150,200], "tickSize": 4}},
            "color": {"field": "sector", "type": "nominal", "scale": {"domain": ["Industry","Buildings","Transportation","Supply","AFOFI"], "range": ["#B567A4","#FF8C00","#AD1424","#B8D3E6","#007A4F"]}, "legend": null},
            "order": {"field": "so", "type": "quantitative"}
          }
        },
        {
          "data": {"values": [{}]},
          "mark": {"type": "rule", "color": "#7f7f7f", "strokeWidth": 1},
          "encoding": {
            "y": {"datum": 0, "type": "quantitative", "scale": {"domain": [-200, 200], "nice": false}, "axis": {"title": null, "labels": false, "values": [-200,-150,-100,-50,0,50,100,150,200], "tickSize": 4}}
          }
        },
        {
          "data": {"name": "net"},
          "transform": [
            {"filter": "datum.panel == 'Energy Efficiency'"},
            {"calculate": "datum.model + '|' + datum.year", "as": "key"}
          ],
          "mark": {"type": "point", "filled": true, "color": "black", "size": 64, "opacity": 1, "shape": "circle"},
          "encoding": {
            "x": {"field": "key", "type": "nominal", "scale": {"domain": ["GCAM|2025","GCAM|2030","GCAM|2040","GCAM|2050","gap1","TIAM|2025","TIAM|2030","TIAM|2040","TIAM|2050","gap2","MUSE|2025","MUSE|2030","MUSE|2040","MUSE|2050","gap3","PROMETHEUS|2025","PROMETHEUS|2030","PROMETHEUS|2040","PROMETHEUS|2050"], "paddingInner": 0, "paddingOuter": 0},
              "axis": {"orient": "bottom", "title": null, "offset": 68, "labelExpr": "split(datum.value, '|')[1] == '2025' ? split(datum.value, '|')[0] : ''", "labelAngle": 0, "labelAlign": "left", "labelBaseline": "top", "labelOffset": -21, "labelFont": "Liberation Sans", "labelFontWeight": "bold", "labelFontSize": 14, "labelColor": "#6e6e6e", "ticks": false, "domain": false, "grid": false, "labelPadding": 0, "labelOverlap": false}},
            "y": {"field": "net", "type": "quantitative", "scale": {"domain": [-200, 200], "nice": false}, "axis": {"title": null, "labels": false, "values": [-200,-150,-100,-50,0,50,100,150,200], "tickSize": 4}}
          }
        }
      ]
    }
  ]
}
